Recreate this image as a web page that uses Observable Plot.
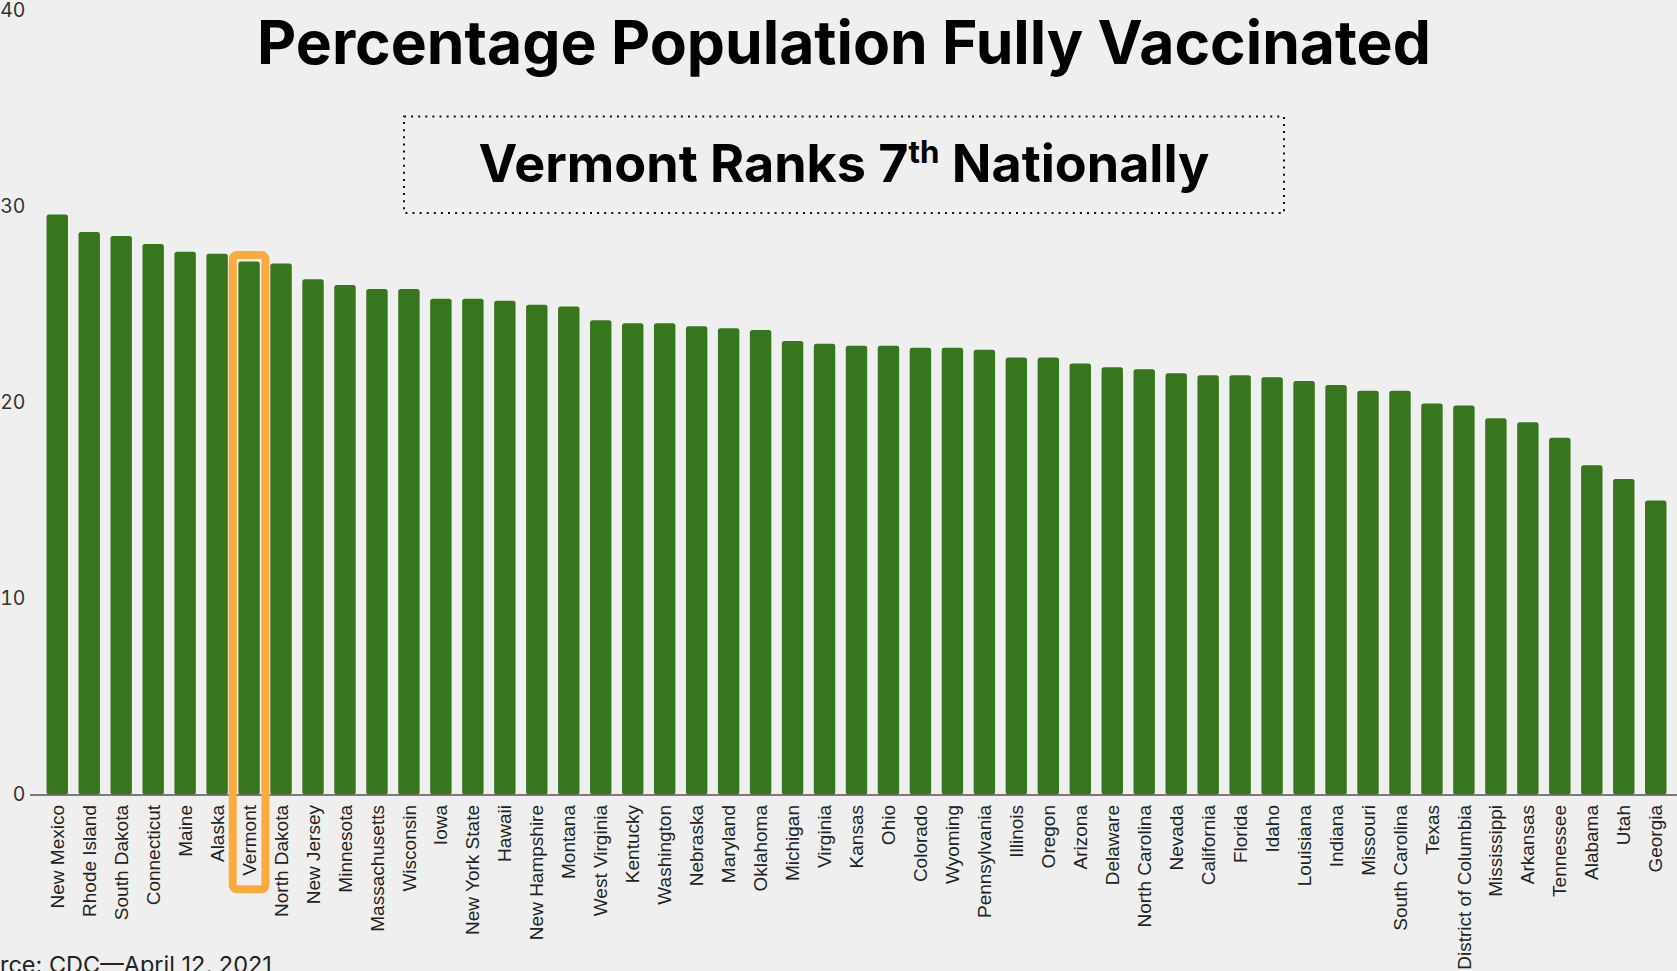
<!DOCTYPE html>
<html>
<head>
<meta charset="utf-8">
<script src="https://cdn.jsdelivr.net/npm/d3@7"></script>
<script src="https://cdn.jsdelivr.net/npm/@observablehq/plot@0.6"></script>
<style>
  html, body { margin: 0; padding: 0; background: #efefef; overflow: hidden; }
  #wrap { position: relative; width: 1677px; height: 971px; }
  #overlay { position: absolute; left: 0; top: 0; pointer-events: none; }
</style>
</head>
<body>
<div id="wrap">
  <div id="chart"></div>
  <svg id="overlay" width="1677" height="971" xmlns="http://www.w3.org/2000/svg">
    <rect x="404" y="116.5" width="880" height="96.5" fill="none" stroke="#111" stroke-width="2" stroke-dasharray="2 5.1"></rect>
    <text id="title" x="844" y="64.3" text-anchor="middle" font-family="Inter, 'Open Sans', sans-serif" font-weight="700" font-size="54" fill="#000">Percentage Population Fully Vaccinated</text>
    <text id="subtitle" x="844" y="182.3" text-anchor="middle" font-family="Inter, 'Open Sans', sans-serif" font-weight="700" font-size="48" fill="#000">Vermont Ranks 7<tspan style="font-size:0.6em" dy="-0.63em">th</tspan><tspan dy="0.38em"> Nationally</tspan></text>
    <text id="caption" x="0" y="973" font-family="Inter, 'Open Sans', sans-serif" font-size="23.5" fill="#222">Source: CDC—April 12, 2021</text>
  </svg>
</div>
<script>
const states = ["New Mexico","Rhode Island","South Dakota","Connecticut","Maine","Alaska","Vermont","North Dakota","New Jersey","Minnesota","Massachusetts","Wisconsin","Iowa","New York State","Hawaii","New Hampshire","Montana","West Virginia","Kentucky","Washington","Nebraska","Maryland","Oklahoma","Michigan","Virginia","Kansas","Ohio","Colorado","Wyoming","Pennsylvania","Illinois","Oregon","Arizona","Delaware","North Carolina","Nevada","California","Florida","Idaho","Louisiana","Indiana","Missouri","South Carolina","Texas","District of Columbia","Mississippi","Arkansas","Tennessee","Alabama","Utah","Georgia"];
const pctFullyVaccinated = [29.6,28.7,28.5,28.1,27.7,27.6,27.2,27.1,26.3,26.0,25.8,25.8,25.3,25.3,25.2,25.0,24.9,24.2,24.05,24.05,23.9,23.8,23.7,23.15,23.0,22.9,22.9,22.8,22.8,22.7,22.3,22.3,22.0,21.8,21.7,21.5,21.4,21.4,21.3,21.1,20.9,20.6,20.6,19.95,19.85,19.2,19.0,18.2,16.8,16.1,15.0];
const yTicks = [0, 10, 20, 30, 40];
const highlightState = "Vermont";

const data = states.map((s, i) => ({state: s, value: pctFullyVaccinated[i]}));

const chart = Plot.plot({
  width: 1677,
  height: 971,
  marginTop: 10.7,
  marginBottom: 176.5,
  marginLeft: 36,
  marginRight: 0,
  style: {background: "transparent", overflow: "visible"},
  x: {domain: states, padding: 0.33, label: null},
  y: {domain: [0, 40], ticks: yTicks, label: null},
  marks: [
    Plot.barY(data, {x: "state", y: "value", fill: "#38761d", rx: 2.5}),
    Plot.ruleY([0], {stroke: "#555", strokeWidth: 1.5, insetLeft: -6}),
    Plot.barY(data.filter(d => d.state === highlightState), {
      x: "state", y: "value", fill: "none", stroke: "#fbab3e", strokeWidth: 8, rx: 4,
      insetLeft: -5.6, insetRight: -5.6, insetTop: -6.4, insetBottom: -94.8
    }),
    Plot.axisX({tickRotate: -90, tickSize: 0, tickPadding: 10, fontSize: 19, fontFamily: "'Liberation Sans', Arial, sans-serif", fill: "#222", label: null}),
    Plot.axisY({ticks: yTicks, tickSize: 0, tickPadding: 11, fontSize: 19.5, fontFamily: "Inter, 'Open Sans', sans-serif", fill: "#333", label: null})
  ]
});
document.getElementById("chart").appendChild(chart);

function fit(id, target) {
  const el = document.getElementById(id);
  const w = el.getComputedTextLength();
  const fs = parseFloat(el.getAttribute("font-size"));
  el.setAttribute("font-size", (fs * target / w).toFixed(2));
}
fit("title", 1174);
fit("subtitle", 731);

// position caption so that the leading "Sou" falls just off the left edge
const cap = document.getElementById("caption");
const hidden = cap.getSubStringLength(0, 3);
cap.setAttribute("x", (-hidden).toFixed(1));
</script>
</body>
</html>
